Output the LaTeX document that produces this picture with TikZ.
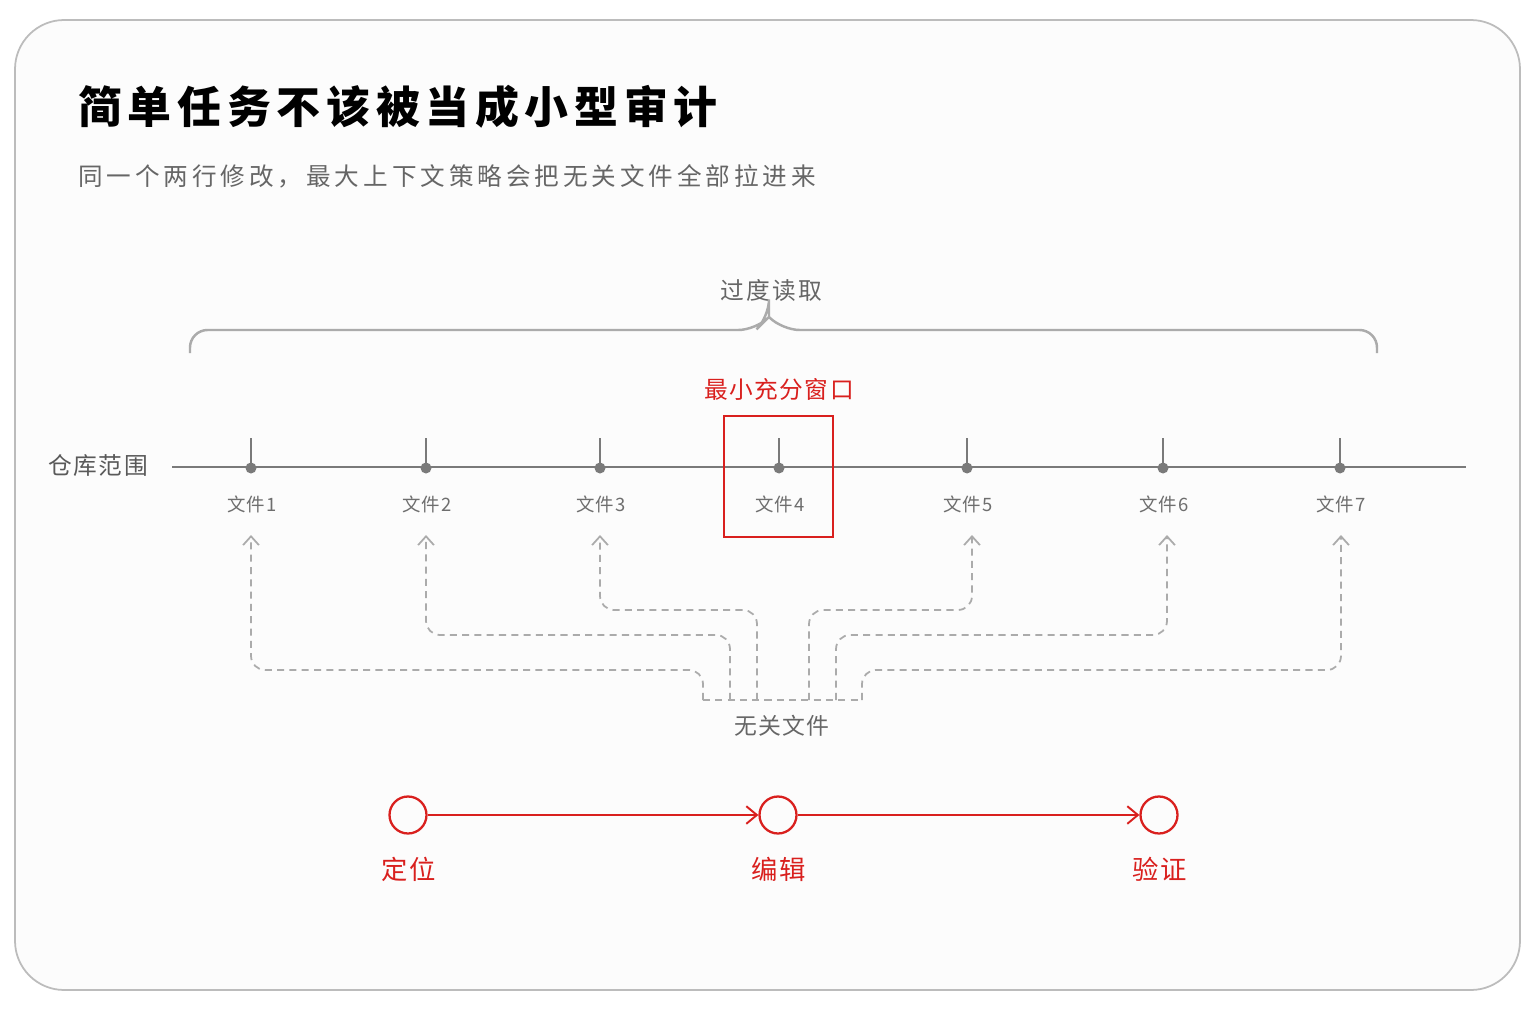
\documentclass[tikz,border=0pt]{standalone}
\usepackage{fontspec}
\setmainfont{Noto Sans CJK SC}
\usetikzlibrary{arrows.meta}
\definecolor{accent}{HTML}{D9201E}
\definecolor{axisgray}{HTML}{7A7A7A}
\definecolor{lightgray}{HTML}{ABABAB}
\tikzset{
  tick/.style={axisgray, line width=1.4pt},
  filelabel/.style={text=axisgray!90!black, font=\fontsize{10.5pt}{12pt}\selectfont\addfontfeatures{LetterSpace=6}},
  extra/.style={lightgray, line width=1pt, dash pattern=on 4pt off 3pt, rounded corners=8pt},
  pull/.style={extra, -{Straight Barb[length=5pt,width=9pt]}},
  stage/.style={circle, draw=accent, line width=1.3pt, minimum size=0.74cm, inner sep=0pt},
  stagelabel/.style={text=accent, font=\fontsize{15pt}{17pt}\selectfont\addfontfeatures{LetterSpace=6}},
  flow/.style={accent, line width=1.1pt, -{Straight Barb[length=6pt,width=10pt]}}
}
\begin{document}
\begin{tikzpicture}[x=0.02cm, y=-0.02cm]
\useasboundingbox (0,0) rectangle (1536,1024);
\fill[white] (0,0) rectangle (1536,1024);
\draw[lightgray!80, line width=1pt, rounded corners=28pt, fill=black!1] (15,20) rectangle (1520,990);

% titles
\node[anchor=west, font=\fontsize{25pt}{30pt}\selectfont\bfseries\addfontfeatures{LetterSpace=13}] (title) at (72,107) {简单任务不该被当成小型审计};
\node[anchor=west, text=black!60, font=\fontsize{14pt}{17pt}\selectfont\addfontfeatures{LetterSpace=16}] (subtitle) at (72,176) {同一个两行修改，最大上下文策略会把无关文件全部拉进来};

% over-reading brace
\node[text=black!60, font=\fontsize{13.5pt}{16pt}\selectfont\addfontfeatures{LetterSpace=10}] (over) at (771,290) {过度读取};
\draw[lightgray, line width=1.4pt, rounded corners=10pt] (190,353) -- (190,330) -- (756,330) -- (769,317) [sharp corners] -- (769,317) [rounded corners=10pt] -- (782,330) -- (1377,330) -- (1377,353);

% repository axis
\node[anchor=east, text=black!65, font=\fontsize{13.5pt}{16pt}\selectfont\addfontfeatures{LetterSpace=6}] (repo) at (154,466) {仓库范围};
\draw[axisgray, line width=1.4pt] (172,467) -- (1466,467);
\foreach \x [count=\i] in {251,426,600,779,967,1163,1340} {
  \draw[tick] (\x,438) -- (\x,467);
  \fill[axisgray] (\x,468) circle (5.5);
  \node[filelabel] (f\i) at (\x+1,504) {文件\i};
}

% minimal window
\node[text=accent, font=\fontsize{13.5pt}{16pt}\selectfont\addfontfeatures{LetterSpace=6}] (window) at (779,389) {最小充分窗口};
\draw[accent, line width=1.4pt] (724,416) rectangle (833,537);

% irrelevant files
\node[text=black!60, font=\fontsize{13pt}{16pt}\selectfont\addfontfeatures{LetterSpace=6}] (irr) at (782,726) {无关文件};
\draw[extra] (703,700) -- (862,700);
\draw[pull] (703,700) -- (703,670) -- (251,670) -- (251,535);
\draw[pull] (730,700) -- (730,635) -- (426,635) -- (426,535);
\draw[pull] (757,700) -- (757,610) -- (600,610) -- (600,535);
\draw[pull] (809,700) -- (809,610) -- (972,610) -- (972,535);
\draw[pull] (836,700) -- (836,635) -- (1167,635) -- (1167,535);
\draw[pull] (862,700) -- (862,670) -- (1341,670) -- (1341,535);

% workflow
\node[stage] (locate) at (408,815) {};
\node[stage] (edit) at (778,815) {};
\node[stage] (verify) at (1159,815) {};
\draw[flow] (locate) -- (edit);
\draw[flow] (edit) -- (verify);
\node[stagelabel] (l1) at (409,869) {定位};
\node[stagelabel] (l2) at (779,869) {编辑};
\node[stagelabel] (l3) at (1160,869) {验证};
\end{tikzpicture}
\end{document}
